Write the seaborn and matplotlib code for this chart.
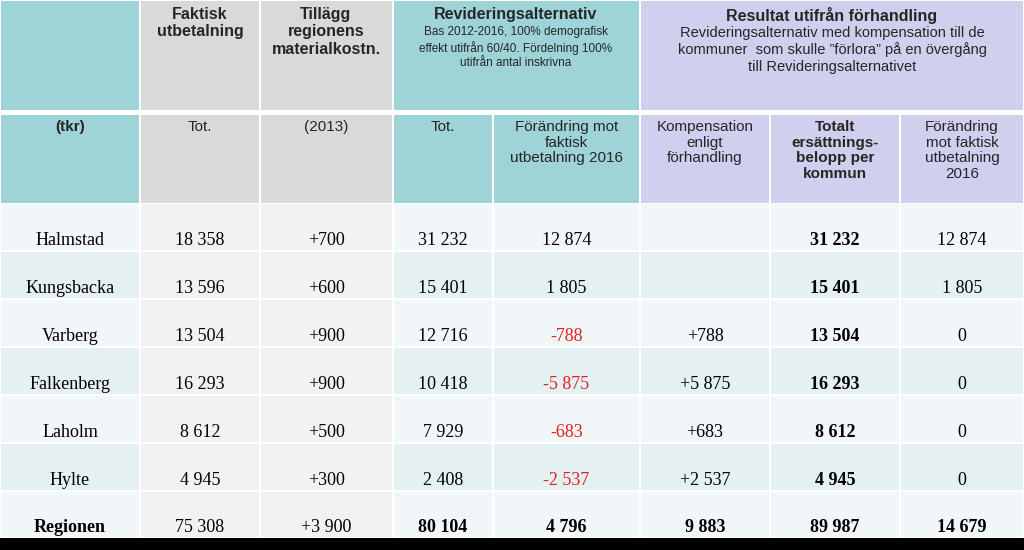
import matplotlib
matplotlib.use("Agg")
import matplotlib.pyplot as plt
import seaborn as sns
from matplotlib.patches import Rectangle

sns.set_theme(style="white")

kommuner = ["Halmstad", "Kungsbacka", "Varberg", "Falkenberg", "Laholm", "Hylte", "Regionen"]
faktisk = ["18 358", "13 596", "13 504", "16 293", "8 612", "4 945", "75 308"]
tillagg = ["+700", "+600", "+900", "+900", "+500", "+300", "+3 900"]
rev_tot = ["31 232", "15 401", "12 716", "10 418", "7 929", "2 408", "80 104"]
rev_forandring = ["12 874", "1 805", "-788", "-5 875", "-683", "-2 537", "4 796"]
kompensation = ["", "", "+788", "+5 875", "+683", "+2 537", "9 883"]
totalt = ["31 232", "15 401", "13 504", "16 293", "8 612", "4 945", "89 987"]
forandring_2016 = ["12 874", "1 805", "0", "0", "0", "0", "14 679"]

cols = [kommuner, faktisk, tillagg, rev_tot, rev_forandring, kompensation, totalt, forandring_2016]
xe = [0, 140, 260, 393, 493, 640, 770, 900, 1024]
TEAL, GRAY, LAV = "#9ed3d8", "#d9d9d9", "#d0cfee"
head2_col = [TEAL, GRAY, GRAY, TEAL, TEAL, LAV, LAV, LAV]
head2 = ["(tkr)", "Tot.", "(2013)", "Tot.", "Förändring mot\nfaktisk\nutbetalning 2016",
         "Kompensation\nenligt\nförhandling", "Totalt\nersättnings-\nbelopp per\nkommun",
         "Förändring\nmot faktisk\nutbetalning\n2016"]

fig = plt.figure(figsize=(10.24, 5.5), dpi=100)
ax = fig.add_axes([0, 0, 1, 1])
ax.set_xlim(0, 1024); ax.set_ylim(550, 0); ax.axis("off")
g = 1.2
def cell(x0, x1, y0, y1, c):
    ax.add_patch(Rectangle((x0 + g, y0 + g), x1 - x0 - 2 * g, y1 - y0 - 2 * g, color=c, lw=0))

SANS = "Liberation Sans"; SERIF = "Liberation Serif"
spans = [(0, 1, TEAL), (1, 2, GRAY), (2, 3, GRAY), (3, 5, TEAL), (5, 8, LAV)]
for a, b, c in spans:
    cell(xe[a], xe[b], 0, 111, c)
ax.text(200, 7, "Faktisk\nutbetalning", ha="center", va="top", fontsize=11.5, fontweight="bold", family=SANS, linespacing=1.2)
ax.text(326, 7, "Tillägg\nregionens\nmaterialkostn.", ha="center", va="top", fontsize=11.5, fontweight="bold", family=SANS, linespacing=1.2)
ax.text(516, 7, "Revideringsalternativ", ha="center", va="top", fontsize=11.5, fontweight="bold", family=SANS)
ax.text(516, 26, "Bas 2012-2016, 100% demografisk\neffekt utifrån 60/40. Fördelning 100%\nutifrån antal inskrivna",
        ha="center", va="top", fontsize=8.5, family=SANS, linespacing=1.25)
ax.text(832, 7, "Resultat utifrån förhandling", ha="center", va="top", fontsize=11.5, fontweight="bold", family=SANS)
ax.text(832, 26, "Revideringsalternativ med kompensation till de\nkommuner  som skulle \u201dförlora\u201d på en övergång\ntill Revideringsalternativet",
        ha="center", va="top", fontsize=10.5, family=SANS, linespacing=1.2)
for i in range(8):
    cell(xe[i], xe[i + 1], 114, 204, head2_col[i])
    bold = i in (0, 6)
    ax.text((xe[i] + xe[i + 1]) / 2, 120, head2[i], ha="center", va="top", fontsize=11,
            fontweight="bold" if bold else "normal", family=SANS, linespacing=1.15)
top = 203
hs = [48, 48, 48, 48, 48, 48, 47]
for r in range(7):
    y0 = top; y1 = top + hs[r]; top = y1
    for i in range(8):
        if i in (1, 2):
            c = "#f2f2f2"
        else:
            c = "#f1f6f8" if r % 2 == 0 else "#e4f0f2"
        cell(xe[i], xe[i + 1], y0, y1, c)
        txt = cols[i][r]
        color = "#e02020" if (i == 4 and txt.startswith("-")) else "black"
        bold = (i == 6) or (r == 6 and i in (0, 3, 4, 5, 7))
        ax.text((xe[i] + xe[i + 1]) / 2, y1 - 2, txt, ha="center", va="bottom", fontsize=13,
                fontweight="bold" if bold else "normal", family=SERIF, color=color)
ax.add_patch(Rectangle((0, 538), 1024, 12, color="black", lw=0))
fig.savefig("out.png", dpi=100)
